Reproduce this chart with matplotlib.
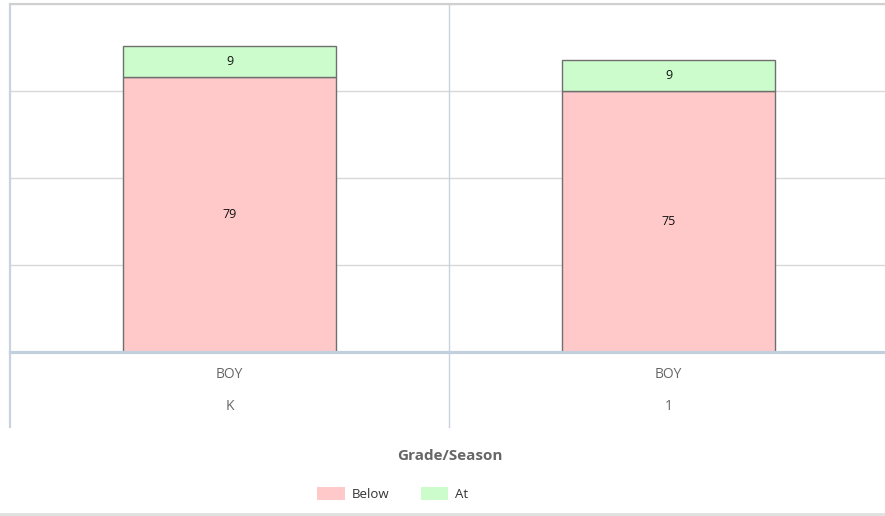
import matplotlib
matplotlib.use("Agg")
import matplotlib.pyplot as plt
from matplotlib.lines import Line2D
from matplotlib.patches import Patch
import matplotlib.transforms as mtransforms
import numpy as np

# Data
seasons = ["BOY", "BOY"]
grades = ["K", "1"]
below = [79, 75]
at = [9, 9]
series_names = ["Below", "At"]
series_colors = ["#ffc9c9", "#ccfccc"]

plt.rcParams["font.family"] = ["Open Sans", "DejaVu Sans"]

W, H = 885, 516
fig = plt.figure(figsize=(W / 100, H / 100), dpi=100)
ax = fig.add_axes([10 / W, (H - 352) / H, 878 / W, 348 / H])

x = np.arange(len(grades))
edge = "#6f6f6f"
b1 = ax.bar(x, below, width=0.483, color=series_colors[0], edgecolor=edge, linewidth=1)
b2 = ax.bar(x, at, width=0.483, bottom=below, color=series_colors[1], edgecolor=edge, linewidth=1)
ax.bar_label(b1, label_type="center", fontsize=9, color="#111111")
ax.bar_label(b2, label_type="center", fontsize=9, color="#111111")

ax.set_xlim(-0.5, 1.5)
ax.set_ylim(0, 100)
ax.set_yticks([25, 50, 75, 100])
ax.yaxis.grid(True, color="#d8d8d8", linewidth=1)
ax.set_axisbelow(True)
ax.tick_params(left=False, bottom=False, labelleft=False, labelbottom=False)
for s in ["right", "left", "bottom"]:
    ax.spines[s].set_visible(False)
ax.spines["top"].set_color("#d0d0d0")
ax.spines["top"].set_linewidth(1.5)

# x axis baseline
ax.axhline(0, color="#c2d0de", linewidth=2.3, zorder=3, clip_on=False)

# category dividers extending into the label area
trans = mtransforms.blended_transform_factory(ax.transData, ax.transAxes)
low = -75 / 348
for xd in [-0.5, 0.5]:
    ax.add_line(Line2D([xd, xd], [1, low], transform=trans, color="#c8d3de",
                       linewidth=1.6 if xd < 0 else 1, clip_on=False))

# two-level category labels
for xi, s, g in zip(x, seasons, grades):
    ax.text(xi, -22 / 348, s, transform=trans, ha="center", va="center",
            fontsize=10, color="#666666")
    ax.text(xi, -55 / 348, g, transform=trans, ha="center", va="center",
            fontsize=10, color="#666666")

fig.text(450 / W, 1 - 456 / H, "Grade/Season", ha="center", va="center",
         fontsize=11, fontweight="bold", color="#666666")

handles = [Patch(facecolor=c, edgecolor="none") for c in series_colors]
fig.legend(handles, series_names, loc="center", bbox_to_anchor=(393 / W, 1 - 494 / H),
           ncol=2, frameon=False, fontsize=9.5, handlelength=2.05, handleheight=1.1,
           columnspacing=2.4, handletextpad=0.55, labelcolor="#333333")

fig.add_artist(Line2D([0, 1], [1 - 514 / H, 1 - 514 / H], transform=fig.transFigure,
                      color="#e0e0e0", linewidth=2))

fig.savefig("out.png", dpi=100)
